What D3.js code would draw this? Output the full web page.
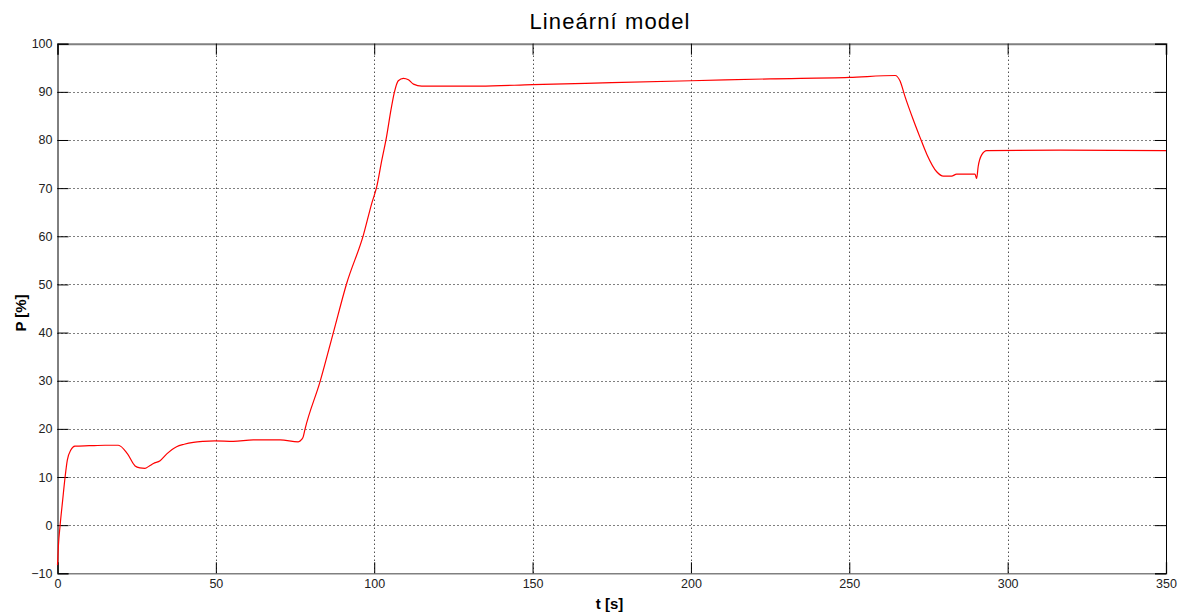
<!DOCTYPE html>
<html>
<head>
<meta charset="utf-8">
<script src="https://cdn.jsdelivr.net/npm/d3@7"></script>
<style>
body { margin: 0; background: #fff; }
svg { font-family: "Liberation Sans", Arial, sans-serif; }
</style>
</head>
<body>
<svg width="1178" height="615"></svg>
<script>
// cas [s]
var time = [0, 0.3, 0.8, 1.6, 2.4, 3.1, 4.2, 5.5, 10, 15, 19.2, 22, 24.5, 26, 27.6, 29, 30.3,
  32.4, 34.5, 37.6, 40, 42.9, 46, 49.7, 55.5, 61.8, 70.3, 76, 77.1, 77.6, 78.1, 82.9, 87.1,
  91.3, 96.6, 99.2, 100.8, 102.4, 103.9, 105.3, 106.4, 107.6, 109.2, 110.8, 112.4, 115,
  133.4, 150, 175, 200, 225, 250, 264.5, 266, 267.6, 270.2, 272.3, 274.5, 277.6, 279.7,
  282.3, 283.9, 289.7, 290.2, 290.7, 291.8, 293.4, 316.6, 350];
// vykon [%]
var power = [-8.3, -4.1, -0.2, 5, 10, 13.5, 15.6, 16.4, 16.5, 16.6, 16.6, 14.9, 12.3, 11.9, 11.8, 12.3, 12.8,
  13.4, 14.8, 16.3, 16.8, 17.2, 17.4, 17.5, 17.4, 17.7, 17.7, 17.3, 17.8, 18.4, 19.8, 29.8, 40,
  50.2, 60.3, 66.8, 70.3, 75.8, 80.7, 86.3, 90, 92.3, 92.8, 92.5, 91.6, 91.2,
  91.2, 91.5, 91.9, 92.3, 92.7, 93.0, 93.4, 92.3, 89.0, 84.2, 80.6, 77.0, 73.4, 72.5,
  72.5, 72.9, 72.9, 72.0, 74.5, 76.9, 77.8, 77.9, 77.8];
var xTicks = [0, 50, 100, 150, 200, 250, 300, 350];
var yTicks = [-10, 0, 10, 20, 30, 40, 50, 60, 70, 80, 90, 100];

var svg = d3.select("svg");
var pL = 57.5, pR = 1166, pT = 43.7, pB = 573.3;

var x = d3.scaleLinear().domain([0, 350]).range([pL, pR]);
var y = d3.scaleLinear().domain([-10, 100]).range([pB, pT]);

// mrizka
var grid = svg.append("g").attr("stroke", "#000").attr("stroke-width", 1)
  .attr("stroke-dasharray", "1,3");
grid.selectAll(".gx").data(xTicks.slice(1, -1)).enter().append("line")
  .attr("x1", d => Math.round(x(d)) + 0.5).attr("x2", d => Math.round(x(d)) + 0.5)
  .attr("y1", pT).attr("y2", pB);
grid.selectAll(".gy").data(yTicks.slice(1, -1)).enter().append("line")
  .attr("y1", d => Math.round(y(d)) + 0.5).attr("y2", d => Math.round(y(d)) + 0.5)
  .attr("x1", pL).attr("x2", pR);

// osy
var tl = 11;
svg.append("g").attr("transform", "translate(0," + pB + ")")
  .call(d3.axisBottom(x).tickValues(xTicks).tickSize(-tl).tickPadding(6).tickFormat(d3.format("d")))
  .call(g => g.select(".domain").attr("stroke", "#808080").attr("stroke-width", 1.5));
svg.append("g").attr("transform", "translate(0," + pT + ")")
  .call(d3.axisTop(x).tickValues(xTicks).tickSize(-tl).tickFormat(""))
  .call(g => g.select(".domain").attr("stroke", "#808080").attr("stroke-width", 2));
svg.append("g").attr("transform", "translate(" + pL + ",0)")
  .call(d3.axisLeft(y).tickValues(yTicks).tickSize(-tl).tickPadding(5).tickFormat(d3.format("d")))
  .call(g => g.select(".domain").attr("stroke", "#000"));
svg.append("g").attr("transform", "translate(" + pR + ",0)")
  .call(d3.axisRight(y).tickValues(yTicks).tickSize(-tl).tickFormat(""))
  .call(g => g.select(".domain").attr("stroke", "#000"));
svg.selectAll(".tick line").attr("stroke", "#000");
svg.selectAll(".tick text").attr("font-size", 12.5).attr("fill", "#222")
  .attr("font-family", "Liberation Sans, Arial, sans-serif");

// krivka
var data = time.map((t, i) => ({ t: t, p: power[i] }));
svg.append("path").datum(data)
  .attr("fill", "none").attr("stroke", "#ff0000").attr("stroke-width", 1.2)
  .attr("d", d3.line().x(d => x(d.t)).y(d => y(d.p)).curve(d3.curveMonotoneX));

svg.append("text").attr("x", 610).attr("y", 28.5)
  .attr("text-anchor", "middle").attr("font-size", 22).attr("letter-spacing", 1.1)
  .attr("fill", "#000")
  .text("Lineární model");
svg.append("text").attr("x", 609.5).attr("y", 609)
  .attr("text-anchor", "middle").attr("font-size", 15).attr("font-weight", "bold")
  .text("t [s]");
svg.append("text").attr("transform", "translate(26,313) rotate(-90)")
  .attr("text-anchor", "middle").attr("font-size", 15).attr("font-weight", "bold")
  .text("P [%]");
</script>
</body>
</html>
